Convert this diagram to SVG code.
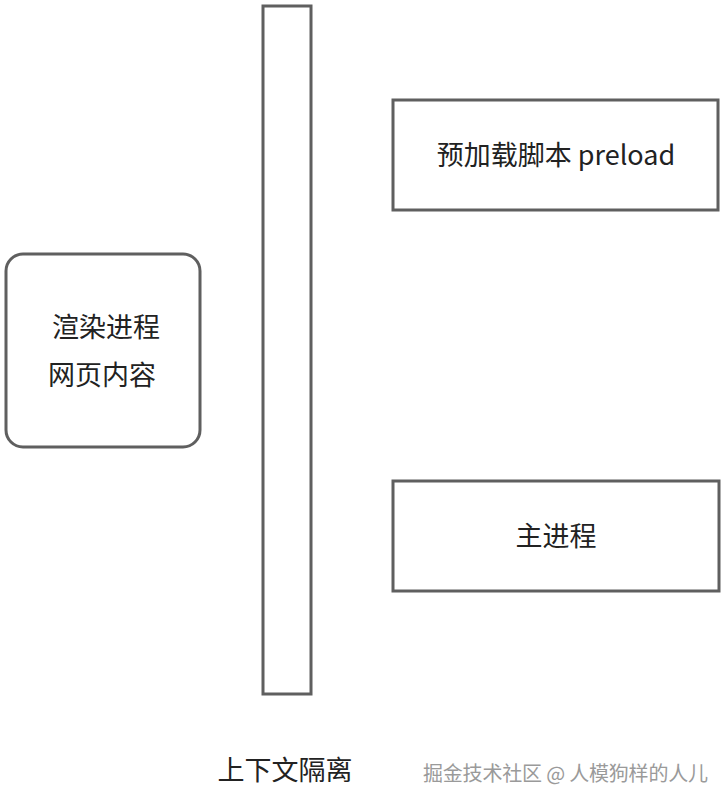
<svg xmlns="http://www.w3.org/2000/svg" width="728" height="806" viewBox="0 0 728 806">
<style>
.box{fill:#fff;stroke:#5f5f5f;stroke-width:3}
.t{font-family:"Noto Sans CJK SC","Noto Sans",sans-serif;font-size:27px;fill:#222}
.wm{font-family:"Noto Sans CJK SC","Noto Sans",sans-serif;font-size:20px;fill:#9a9a9a}
</style>
<rect width="728" height="806" fill="#fff"/>
<g id="renderer">
<rect class="box" x="6" y="254" width="194" height="193" rx="17"/>
<text class="t" x="52" y="337">渲染进程</text>
<text class="t" x="48" y="385">网页内容</text>
</g>
<g id="isolation">
<rect class="box" x="263" y="6" width="48" height="688"/>
<text class="t" x="285" y="780" text-anchor="middle">上下文隔离</text>
</g>
<g id="preload">
<rect class="box" x="393" y="100" width="325" height="110"/>
<text class="t" x="556" y="165" text-anchor="middle" font-size="26">预加载脚本 preload</text>
</g>
<g id="main">
<rect class="box" x="393" y="481" width="326" height="110"/>
<text class="t" x="556" y="546" text-anchor="middle">主进程</text>
</g>
<g id="connectors"></g>
<text class="wm" x="423" y="781" style="paint-order:stroke" stroke="#fff" stroke-width="0.5" textLength="285">掘金技术社区 @ 人模狗样的人儿</text>
</svg>
